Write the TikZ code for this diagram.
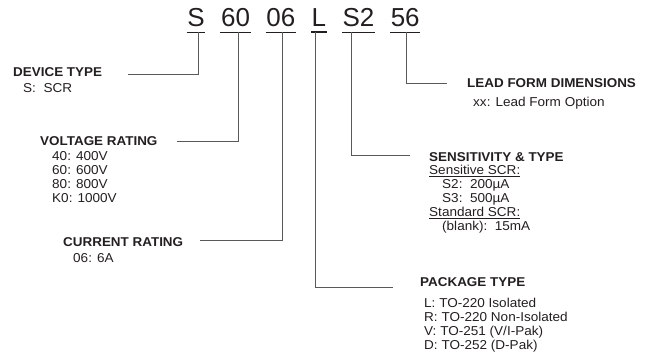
\documentclass[tikz,border=0pt]{standalone}
\usepackage{fontspec}
\setmainfont[FakeStretch=1.05]{Liberation Sans}
\newfontfamily\codefont{Liberation Sans}
\usetikzlibrary{positioning}
\definecolor{ink}{HTML}{231F20}
\definecolor{wire}{HTML}{58595B}
\tikzset{
    code/.style={
        font=\codefont\fontsize{26}{30}\selectfont,
        text=ink,
        inner xsep=0.5pt,
        inner ysep=5pt,
        anchor=base
    },
    heading/.style={
        font=\bfseries\fontsize{12.8}{15}\selectfont,
        text=ink,
        inner sep=0pt,
        anchor=base west
    },
    options/.style={
        font=\fontsize{12.9}{13.9}\selectfont,
        text=ink,
        align=left,
        inner sep=0pt
    },
    uline/.style={
        draw=ink,
        line width=1.6pt
    },
    leader/.style={
        draw=wire,
        line width=0.9pt
    }
}

\begin{document}
\begin{tikzpicture}[x=1pt, y=-1pt]
\useasboundingbox (0,0) rectangle (650,356);

% part number
\node[code] (cS) at (196,27) {S};
\node[code, base right=15pt of cS] (c60) {60};
\node[code, base right=15pt of c60] (c06) {06};
\node[code, base right=15pt of c06] (cL) {L};
\node[code, base right=15pt of cL] (cS2) {S2};
\node[code, base right=15pt of cS2] (c56) {56};
\foreach \n in {cS,c60,c06,cL,cS2,c56}
    \draw[uline] (\n.south west) -- (\n.south east);

% field headings and options
\node[heading] (devtype) at (13,76.5) {DEVICE TYPE};
\node[options, below right=6pt and 10pt of devtype.south west] (devopt) {S:\ \ SCR};

\node[heading] (vrate) at (40,145) {VOLTAGE RATING};
\node[options, below right=6pt and 12pt of vrate.south west] (vopt)
    {40: 400V\\60: 600V\\80: 800V\\K0: 1000V};

\node[heading] (crate) at (63,246.5) {CURRENT RATING};
\node[options, below right=6pt and 10pt of crate.south west] (copt) {06: 6A};

\node[heading] (lform) at (467,87) {LEAD FORM DIMENSIONS};
\node[options, below right=9.5pt and 6pt of lform.south west] (lopt) {xx: Lead Form Option};

\node[heading] (sens) at (429,161) {SENSITIVITY \& TYPE};
\node[options, below right=4pt and 0pt of sens.south west] (sopt)
    {\underline{Sensitive SCR:}\\
     \hspace*{13pt}S2:\ \ 200µA\\
     \hspace*{13pt}S3:\ \ 500µA\\
     \underline{Standard SCR:}\\
     \hspace*{13pt}(blank):\ \ 15mA};

\node[heading] (ptype) at (420,286.5) {PACKAGE TYPE};
\node[options, below right=11pt and 4pt of ptype.south west] (popt)
    {L: TO-220 Isolated\\R: TO-220 Non-Isolated\\V: TO-251 (V/I-Pak)\\D: TO-252 (D-Pak)};

% leaders
\coordinate (kS) at (198,74);   \coordinate (tS) at (128,74);
\coordinate (k60) at (238,141); \coordinate (t60) at (177,141);
\coordinate (k06) at (282,240); \coordinate (t06) at (200,240);
\coordinate (kL) at (315,287);  \coordinate (tL) at (393,287);
\coordinate (kS2) at (351,155); \coordinate (tS2) at (410,155);
\coordinate (k56) at (406,83);  \coordinate (t56) at (447,83);

\draw[leader] (cS.south -| kS) |- (tS);
\draw[leader] (c60.south -| k60) |- (t60);
\draw[leader] (c06.south -| k06) |- (t06);
\draw[leader] (cL.south -| kL) |- (tL);
\draw[leader] (cS2.south -| kS2) |- (tS2);
\draw[leader] (c56.south -| k56) |- (t56);
\end{tikzpicture}
\end{document}
